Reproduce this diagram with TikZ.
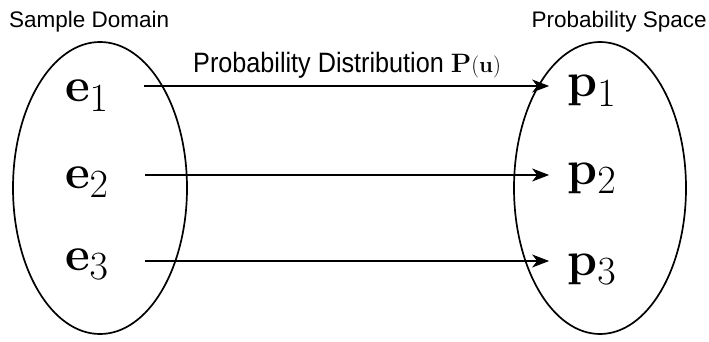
\documentclass[tikz,border=0pt]{standalone}
\usepackage[no-math]{fontspec}
\setmainfont{Liberation Sans}
\newfontfamily\narrowfont[FakeStretch=0.9]{Liberation Sans}
\usetikzlibrary{arrows.meta,calc}
\newcommand{\bigmath}[1]{\scalebox{1.93}{\fontsize{24.88}{25}\selectfont$#1$}}
\tikzset{
  setshape/.style={draw, line width=1.7pt},
  elem/.style={inner sep=0pt, anchor=base},
  arr/.style={line width=1.1pt, -{Stealth[length=17pt,width=13pt,inset=5pt]}},
  title/.style={inner sep=0pt, font=\fontsize{22.5}{23}\selectfont}
}
\begin{document}
\begin{tikzpicture}[x=1pt,y=-1pt]
\useasboundingbox (0,0) rectangle (709,342);
\draw[setshape] (100,188) ellipse [x radius=87, y radius=146];
\draw[setshape] (600,188) ellipse [x radius=86, y radius=146];
\node[title, anchor=base west] (sd) at (9,28) {Sample Domain};
\node[title, anchor=base east] (ps) at (707,28) {Probability Space};
\node[elem] (e1) at (87,102) {\bigmath{\mathbf{e}_1}};
\node[elem] (e2) at (87,188) {\bigmath{\mathbf{e}_2}};
\node[elem] (e3) at (87,270) {\bigmath{\mathbf{e}_3}};
\node[elem] (p1) at (592,97) {\bigmath{\mathbf{p}_1}};
\node[elem] (p2) at (592,184) {\bigmath{\mathbf{p}_2}};
\node[elem] (p3) at (592,275) {\bigmath{\mathbf{p}_3}};
\draw[arr] ($(e1.base east)+(35,-16)$) -- ($(e1.base east -| p1.base west)+(-18,-16)$);
\draw[arr] ($(e2.base east)+(36,-13)$) -- ($(e2.base east -| p2.base west)+(-18,-13)$);
\draw[arr] ($(e3.base east)+(36,-9)$) -- ($(e3.base east -| p3.base west)+(-18,-9)$);
\node[inner sep=0pt, anchor=base west, font=\narrowfont\fontsize{28}{28}\selectfont] (lbl) at (193,73) {Probability Distribution \scalebox{1.07}{\fontsize{24.88}{25}\selectfont$\mathbf{P}{\scriptstyle(\mathbf{u})}$}};
\end{tikzpicture}
\end{document}
